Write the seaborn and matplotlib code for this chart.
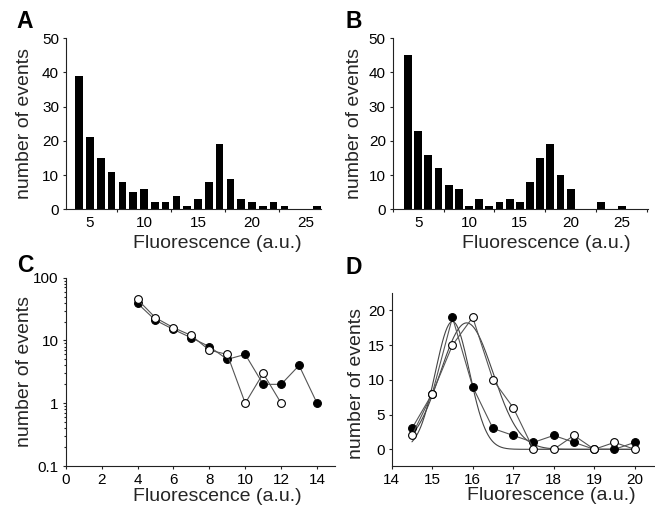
import numpy as np
import pandas as pd
import matplotlib
matplotlib.use("Agg")
import matplotlib.pyplot as plt
import seaborn as sns
from matplotlib.ticker import FixedLocator, NullFormatter, FuncFormatter

sns.set_theme(style="ticks")
plt.rcParams["font.family"] = ["Liberation Sans", "DejaVu Sans"]

# ---- data -------------------------------------------------------------
# Panel A histogram
fluor_a = [4, 5, 6, 7, 8, 9, 10, 11, 12, 13, 14, 15, 16, 17, 18, 19, 20, 21, 22, 23, 26]
counts_a = [39, 21, 15, 11, 8, 5, 6, 2, 2, 4, 1, 3, 8, 19, 9, 3, 2, 1, 2, 1, 1]
# Panel B histogram
fluor_b = [4, 5, 6, 7, 8, 9, 10, 11, 12, 13, 14, 15, 16, 17, 18, 19, 20, 23, 25]
counts_b = [45, 23, 16, 12, 7, 6, 1, 3, 1, 2, 3, 2, 8, 15, 19, 10, 6, 2, 1]
# Panel C (log scale)
c_x_filled = [4, 5, 6, 7, 8, 9, 10, 11, 12, 13, 14]
c_y_filled = [39, 21, 15, 11, 8, 5, 6, 2, 2, 4, 1]
c_x_open = [4, 5, 6, 7, 8, 9, 10, 11, 12]
c_y_open = [45, 23, 16, 12, 7, 6, 1, 3, 1]
# Panel D
d_x = [14.5, 15, 15.5, 16, 16.5, 17, 17.5, 18, 18.5, 19, 19.5, 20]
d_y_filled = [3, 8, 19, 9, 3, 2, 1, 2, 1, 0, 0, 1]
d_y_open = [2, 8, 15, 19, 10, 6, 0, 0, 2, 0, 1, 0]
# Gaussian fit parameters (amplitude, centre, sigma)
fit_filled = (18.4, 15.5, 0.42)
fit_open = (18.2, 15.85, 0.65)
fit_range = (14.5, 20.0)

hist_xticklabels = [5, 10, 15, 20, 25]
hist_yticks = [0, 10, 20, 30, 40, 50]
c_xticks = [0, 2, 4, 6, 8, 10, 12, 14]
c_yticks = [0.1, 1, 10, 100]
d_xticks = [14, 15, 16, 17, 18, 19, 20]
d_yticks = [0, 5, 10, 15, 20]

XLABEL = "Fluorescence (a.u.)"
YLABEL = "number of events"

# ---- figure -----------------------------------------------------------
W, H = 655, 508
fig = plt.figure(figsize=(W / 100, H / 100), dpi=100)


def px_axes(left, top, right, bottom):
    return fig.add_axes([left / W, 1 - bottom / H, (right - left) / W, (bottom - top) / H])


axA = px_axes(66, 38.3, 320.7, 209.3)
axB = px_axes(392.7, 38.3, 648, 209.3)
axC = px_axes(65.7, 277.7, 335, 466)
axD = px_axes(391.7, 293, 655, 466)

LINE_C = "#222222"
TICK_FS = 11
LABEL_FS = 14

for ax in (axA, axB, axC, axD):
    sns.despine(ax=ax)
    for s in ("left", "bottom"):
        ax.spines[s].set_color(LINE_C)
        ax.spines[s].set_linewidth(0.8)
    ax.tick_params(which="both", direction="out", color=LINE_C, width=0.8,
                   labelsize=TICK_FS, labelcolor="black", pad=2.5)
    ax.tick_params(which="major", length=2.5)
    ax.set_facecolor("white")


def hist_panel(ax, xs, ys, width, xlim, major_ticks, xlab_pos, ylab_pos):
    df = pd.DataFrame({"x": xs, "y": ys})
    sns.barplot(data=df, x="x", y="y", native_scale=True, color="black",
                saturation=1, width=width, edgecolor="black", linewidth=0, ax=ax)
    ax.set_xlim(*xlim)
    ax.set_ylim(0, 50)
    ax.set_yticks(hist_yticks)
    ax.xaxis.set_major_locator(FixedLocator(major_ticks))
    ax.xaxis.set_major_formatter(NullFormatter())
    ax.xaxis.set_minor_locator(FixedLocator(hist_xticklabels))
    ax.xaxis.set_minor_formatter(FuncFormatter(lambda v, p: f"{v:g}"))
    ax.tick_params(axis="x", which="minor", length=0, pad=5, labelsize=TICK_FS)
    ax.set_xlabel(XLABEL, fontsize=LABEL_FS)
    ax.set_ylabel(YLABEL, fontsize=LABEL_FS)
    ax.xaxis.set_label_coords(*xlab_pos)
    ax.yaxis.set_label_coords(*ylab_pos)
    ax.xaxis.label.set_va("center")
    ax.yaxis.label.set_va("center")


hist_panel(axA, fluor_a, counts_a, 0.7, (2.78, 26.36),
           [2.5, 7.5, 12.5, 17.5, 22.5], (0.594, -0.2), (-0.163, 0.5))
hist_panel(axB, fluor_b, counts_b, 0.78, (2.5, 27.6),
           [2.5, 7.5, 12.5, 17.5, 22.5, 27.5], (0.601, -0.2), (-0.148, 0.5))

# ---- panel C ----------------------------------------------------------
dfc_f = pd.DataFrame({"x": c_x_filled, "y": c_y_filled})
dfc_o = pd.DataFrame({"x": c_x_open, "y": c_y_open})
line_kw = dict(color="#555555", linewidth=0.8, marker="o", markersize=5.6,
               markeredgecolor="black", markeredgewidth=0.8)
sns.lineplot(data=dfc_f, x="x", y="y", ax=axC, markerfacecolor="black", **line_kw)
sns.lineplot(data=dfc_o, x="x", y="y", ax=axC, markerfacecolor="white", **line_kw)
axC.set_yscale("log")
axC.set_ylim(0.1, 100)
axC.set_xlim(0, 15)
axC.set_xticks(c_xticks)
axC.yaxis.set_major_locator(FixedLocator(c_yticks))
axC.yaxis.set_major_formatter(FuncFormatter(lambda v, p: f"{v:g}"))
axC.yaxis.set_minor_locator(matplotlib.ticker.LogLocator(base=10, subs=np.arange(2, 10)))
axC.yaxis.set_minor_formatter(NullFormatter())
axC.tick_params(axis="y", which="minor", length=1.6)
axC.set_xlabel(XLABEL, fontsize=LABEL_FS)
axC.set_ylabel(YLABEL, fontsize=LABEL_FS)
axC.xaxis.set_label_coords(0.562, -0.16)
axC.yaxis.set_label_coords(-0.153, 0.5)
axC.xaxis.label.set_va("center")
axC.yaxis.label.set_va("center")

# ---- panel D ----------------------------------------------------------
xs_fit = np.linspace(fit_range[0], fit_range[1], 300)
for amp, mu, sig in (fit_filled, fit_open):
    dff = pd.DataFrame({"x": xs_fit, "y": amp * np.exp(-(xs_fit - mu) ** 2 / (2 * sig ** 2))})
    sns.lineplot(data=dff, x="x", y="y", ax=axD, color="#444444", linewidth=0.8)
dfd_f = pd.DataFrame({"x": d_x, "y": d_y_filled})
dfd_o = pd.DataFrame({"x": d_x, "y": d_y_open})
sns.lineplot(data=dfd_f, x="x", y="y", ax=axD, markerfacecolor="black", **line_kw)
sns.lineplot(data=dfd_o, x="x", y="y", ax=axD, markerfacecolor="white", **line_kw)
axD.set_xlim(14, 20.5)
axD.set_ylim(-2.4, 22.5)
axD.set_xticks(d_xticks)
axD.set_yticks(d_yticks)
axD.set_xlabel(XLABEL, fontsize=LABEL_FS)
axD.set_ylabel(YLABEL, fontsize=LABEL_FS)
axD.xaxis.set_label_coords(0.605, -0.17)
axD.yaxis.set_label_coords(-0.134, 0.474)
axD.xaxis.label.set_va("center")
axD.yaxis.label.set_va("center")

# ---- panel letters ------------------------------------------------------
for letter, (x, y) in {"A": (25, 22), "B": (354, 22), "C": (25, 266), "D": (354, 268)}.items():
    fig.text(x / W, 1 - y / H, letter, fontsize=16.5, fontweight="bold",
             ha="center", va="center", color="black")

fig.savefig("out.png", dpi=100, facecolor="white")
